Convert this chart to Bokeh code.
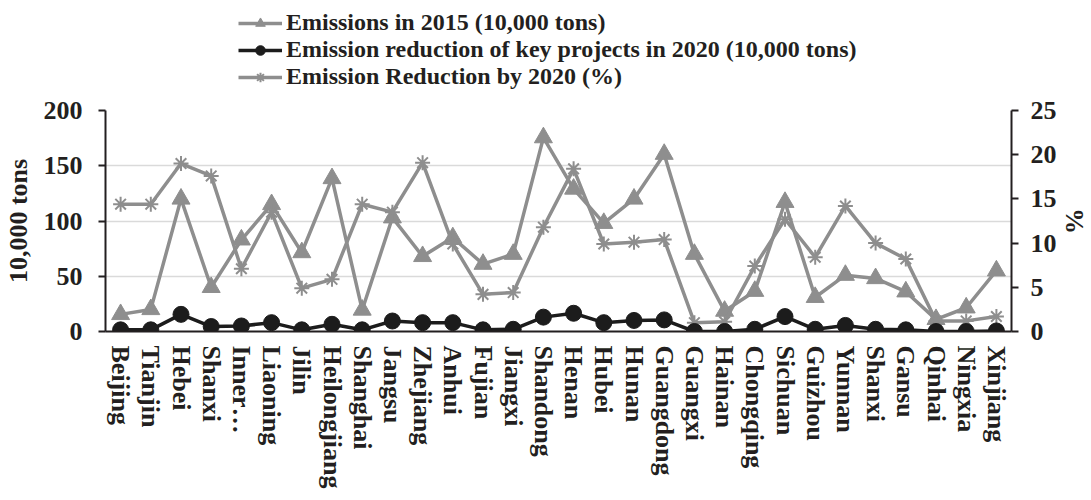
from bokeh.plotting import figure
from bokeh.layouts import column
from bokeh.models import Range1d, LinearAxis, Legend, LegendItem, FixedTicker
from bokeh.embed import file_html
from bokeh.resources import INLINE

provinces = ["Beijing", "Tianjin", "Hebei", "Shanxi", "Inner…", "Liaoning", "Jilin",
             "Heilongjiang", "Shanghai", "Jangsu", "Zhejiang", "Anhui", "Fujian", "Jiangxi",
             "Shandong", "Henan", "Hubei", "Hunan", "Guangdong", "Guangxi", "Hainan",
             "Chongqing", "Sichuan", "Guizhou", "Yunnan", "Shanxi", "Gansu", "Qinhai",
             "Ningxia", "Xinjiang"]
emis_2015 = [15.5, 20, 120, 40, 83, 115, 71.5, 138.5, 19.5, 103, 68, 85, 61, 70, 175.5,
             129, 98, 120, 160.5, 70, 18.5, 36.5, 117, 31, 51, 48, 36, 11, 21.5, 55]
reduction_key = [1.5, 1.5, 15.5, 4.5, 5, 8, 1.5, 6.5, 1.5, 9.5, 8, 8, 1.5, 2, 13,
                 16.5, 8, 10, 10.5, 0, 0, 2, 13.5, 2, 5.5, 2, 1.5, 0, 0, 0.5]
reduction_pct = [14.4, 14.4, 19.0, 17.6, 7.1, 13.5, 4.9, 5.9, 14.4, 13.5, 19.1, 9.9, 4.2,
                 4.4, 11.8, 18.4, 9.9, 10.1, 10.4, 1.0, 1.1, 7.4, 12.7, 8.4, 14.2, 10.0,
                 8.2, 1.2, 1.2, 1.7]
series_labels = ["Emissions in 2015 (10,000 tons)",
                 "Emission reduction of key projects in 2020 (10,000 tons)",
                 "Emission Reduction by 2020 (%)"]
left_ticks = [0, 50, 100, 150, 200]
right_ticks = [0, 5, 10, 15, 20, 25]

xs = list(range(1, len(provinces) + 1))
FONT = "Liberation Serif"
GRAY = "#8e8e8e"
BLACK = "#1c1c1c"
TXT = "#231f20"
LEG_H = 90
BL, BR = 99, 74

p = figure(frame_width=906, frame_height=221, min_border_left=BL, min_border_right=BR,
           min_border_top=110 - LEG_H, min_border_bottom=153,
           x_range=Range1d(0.5, len(provinces) + 0.5), y_range=Range1d(0, 200),
           output_backend="svg", toolbar_location=None)
p.extra_y_ranges = {"pct": Range1d(0, 25)}
p.outline_line_color = None
p.background_fill_color = "white"

p.xgrid.visible = False
p.ygrid.ticker = FixedTicker(ticks=left_ticks)
p.ygrid.grid_line_color = "#dadada"
p.ygrid.grid_line_width = 1.5


def style_axis(ax, size="26px"):
    ax.major_label_text_font = FONT
    ax.major_label_text_font_style = "bold"
    ax.major_label_text_font_size = size
    ax.major_label_text_color = TXT
    ax.axis_label_text_font = FONT
    ax.axis_label_text_font_style = "bold"
    ax.axis_label_text_font_size = "26px"
    ax.axis_label_text_color = TXT
    ax.major_tick_in = 0
    ax.minor_tick_out = 0
    ax.minor_tick_in = 0
    ax.axis_line_width = 2
    ax.major_tick_line_width = 2
    ax.axis_line_color = TXT
    ax.major_tick_line_color = TXT


ya = p.yaxis[0]
style_axis(ya)
ya.ticker = FixedTicker(ticks=left_ticks)
ya.axis_label = "10,000 tons"
ya.axis_label_standoff = 8
ya.major_label_standoff = 16
ya.major_tick_out = 7

ra = LinearAxis(y_range_name="pct", ticker=FixedTicker(ticks=right_ticks))
style_axis(ra)
ra.axis_label = "%"
ra.axis_label_standoff = 0
ra.major_label_standoff = 12
ra.major_tick_out = 7
p.add_layout(ra, "right")

xa = p.xaxis[0]
style_axis(xa, "26px")
xa.ticker = FixedTicker(ticks=xs)
xa.major_label_overrides = {x: n for x, n in zip(xs, provinces)}
xa.major_label_orientation = "vertical"
xa.major_label_standoff = 14
xa.major_tick_out = 0

l1 = p.line(xs, emis_2015, line_color=GRAY, line_width=3.5)
m1 = p.scatter(xs, emis_2015, marker="triangle", size=18, fill_color=GRAY, line_color=GRAY)
l3 = p.line(xs, reduction_pct, line_color=GRAY, line_width=3.5, y_range_name="pct")
m3 = p.scatter(xs, reduction_pct, marker="asterisk", size=15, line_color=GRAY, line_width=2,
               y_range_name="pct")
l2 = p.line(xs, reduction_key, line_color=BLACK, line_width=3.5)
m2 = p.scatter(xs, reduction_key, marker="circle", size=16, fill_color=BLACK, line_color=BLACK)

# legend strip above the chart: same series, drawn outside its visible range,
# so that only the legend samples show
lg = figure(width=906 + BL + BR, height=LEG_H, min_border=0,
            x_axis_location=None, y_axis_location=None,
            x_range=Range1d(-10, -9), y_range=Range1d(-10, -9),
            output_backend="svg", toolbar_location=None)
lg.grid.visible = False
lg.outline_line_color = None
e1 = lg.line(xs, emis_2015, line_color=GRAY, line_width=3.5)
f1 = lg.scatter(xs, emis_2015, marker="triangle", size=18, fill_color=GRAY, line_color=GRAY)
e2 = lg.line(xs, reduction_key, line_color=BLACK, line_width=3.5)
f2 = lg.scatter(xs, reduction_key, marker="circle", size=16, fill_color=BLACK, line_color=BLACK)
e3 = lg.line(xs, reduction_pct, line_color=GRAY, line_width=3.5)
f3 = lg.scatter(xs, reduction_pct, marker="asterisk", size=15, line_color=GRAY, line_width=2)

legend = Legend(items=[
    LegendItem(label=series_labels[0], renderers=[e1, f1]),
    LegendItem(label=series_labels[1], renderers=[e2, f2]),
    LegendItem(label=series_labels[2], renderers=[e3, f3]),
], location=(133, 0))
legend.label_text_font = FONT
legend.label_text_font_style = "bold"
legend.label_text_font_size = "24px"
legend.label_text_color = TXT
legend.label_height = 24
legend.glyph_height = 24
legend.glyph_width = 44
legend.label_standoff = 4
legend.spacing = 0
legend.padding = 0
legend.margin = 0
legend.border_line_color = None
legend.background_fill_alpha = 0
lg.add_layout(legend, "center")

layout = column(lg, p, spacing=0)
open("out.html", "w").write(file_html(layout, INLINE))
